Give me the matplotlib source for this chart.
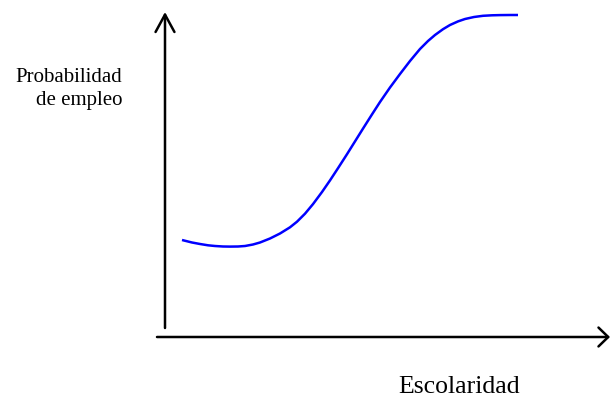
import matplotlib
matplotlib.use("Agg")
import matplotlib.pyplot as plt

# Curve (figure pixel units, x to the right, y from top)
escolaridad = [182, 192, 200, 208, 215, 223, 230, 238, 245, 253, 260, 270, 280,
               290, 297, 305, 313, 322, 330, 338, 347, 355, 363, 372, 380, 390,
               400, 410, 420, 428, 435, 443, 450, 458, 465, 474, 483, 492, 500,
               510, 518]
prob_px = [240, 242.5, 244, 245.3, 246, 246.5, 246.6, 246.5, 246, 244.5, 242.5,
           238.5, 233.5, 227.3, 221.7, 213.7, 204.1, 192, 180.4, 168.2, 154.2,
           141.4, 128.6, 114.4, 102, 87.5, 74, 61, 49, 41, 35, 29.2, 25, 21.4,
           19, 17, 15.8, 15.3, 15.1, 15, 15]

W, H = 610, 401
probabilidad = [H - v for v in prob_px]

fig = plt.figure(figsize=(6.10, 4.01), dpi=100)
ax = fig.add_axes([0, 0, 1, 1])
ax.set_xlim(0, W)
ax.set_ylim(0, H)
ax.axis("off")

ax.plot(escolaridad, probabilidad, color="#0000ff", lw=1.8,
        solid_capstyle="butt", solid_joinstyle="round")

# axes arrows
ax.annotate("", xy=(165, H - 12), xytext=(165, H - 328),
            arrowprops=dict(arrowstyle="->,head_length=1.25,head_width=0.68",
                            lw=1.8, color="black", shrinkA=0, shrinkB=0))
ax.annotate("", xy=(610, H - 337), xytext=(157, H - 337),
            arrowprops=dict(arrowstyle="->,head_length=0.7,head_width=0.68",
                            lw=1.8, color="black", shrinkA=0, shrinkB=0))

serif = ["Liberation Serif", "DejaVu Serif"]
ax.text(122, H - 77, "Probabilidad", ha="right", va="center", fontsize=15, family=serif)
ax.text(122, H - 101, "de empleo", ha="right", va="center", fontsize=15, family=serif)
ax.text(459, H - 387, "Escolaridad", ha="center", va="center", fontsize=18.5, family=serif)

fig.savefig("out.png", dpi=100)
